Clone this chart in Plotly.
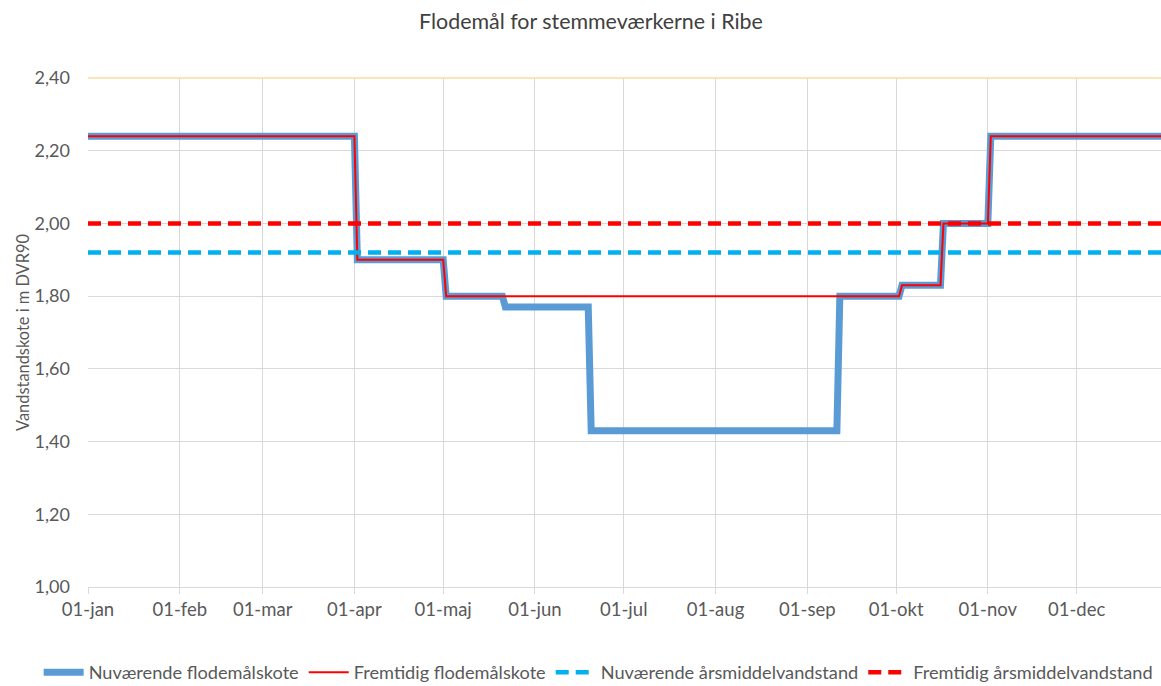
import plotly.graph_objects as go

# ---- data ----
month_ticks = ["2023-01-01", "2023-02-01", "2023-03-01", "2023-04-01", "2023-05-01", "2023-06-01",
               "2023-07-01", "2023-08-01", "2023-09-01", "2023-10-01", "2023-11-01", "2023-12-01"]
month_labels = ["01-jan", "01-feb", "01-mar", "01-apr", "01-maj", "01-jun",
                "01-jul", "01-aug", "01-sep", "01-okt", "01-nov", "01-dec"]

cur_dates = ["2023-01-01", "2023-04-01", "2023-04-02", "2023-05-01", "2023-05-02", "2023-05-21",
             "2023-05-22", "2023-06-19", "2023-06-20", "2023-09-11", "2023-09-12", "2023-10-02",
             "2023-10-03", "2023-10-16", "2023-10-17", "2023-11-01", "2023-11-02", "2023-12-31"]
cur_vals = [2.24, 2.24, 1.90, 1.90, 1.80, 1.80,
            1.77, 1.77, 1.43, 1.43, 1.80, 1.80,
            1.83, 1.83, 2.00, 2.00, 2.24, 2.24]

fut_dates = ["2023-01-01", "2023-04-01", "2023-04-02", "2023-05-01", "2023-05-02", "2023-10-02",
             "2023-10-03", "2023-10-16", "2023-10-17", "2023-11-01", "2023-11-02", "2023-12-31"]
fut_vals = [2.24, 2.24, 1.90, 1.90, 1.80, 1.80,
            1.83, 1.83, 2.00, 2.00, 2.24, 2.24]

mean_dates = ["2023-01-01", "2023-12-31"]
cur_mean = [1.92, 1.92]
fut_mean = [2.00, 2.00]

names = ["Nuværende flodemålskote", "Fremtidig flodemålskote",
         "Nuværende årsmiddelvandstand", "Fremtidig årsmiddelvandstand"]

FONT = "Lato"
TXT = "#595959"
GRID = "#D9D9D9"

fig = go.Figure()
fig.add_trace(go.Scatter(x=cur_dates, y=cur_vals, mode="lines", name=names[0],
                         line=dict(color="#5B9BD5", width=7)))
fig.add_trace(go.Scatter(x=fut_dates, y=fut_vals, mode="lines", name=names[1],
                         line=dict(color="#FF0000", width=2)))
fig.add_trace(go.Scatter(x=mean_dates, y=cur_mean, mode="lines", name=names[2],
                         line=dict(color="#00B0F0", width=4.5, dash="13px,7px")))
fig.add_trace(go.Scatter(x=mean_dates, y=fut_mean, mode="lines", name=names[3],
                         line=dict(color="#FF0000", width=4.5, dash="13px,7px")))

fig.add_shape(type="line", xref="x domain", yref="y domain", x0=0, x1=1, y0=1, y1=1,
              line=dict(color="#F9DC9A", width=1.5), layer="above")

fig.update_layout(
    width=1161, height=686,
    paper_bgcolor="white", plot_bgcolor="white",
    margin=dict(l=88, r=0, t=78, b=99, autoexpand=False),
    separators=",.",
    font=dict(family=FONT, color=TXT, size=16),
    title=dict(text="Flodemål for stemmeværkerne i Ribe", x=0.509, xanchor="center",
               y=1 - 22 / 686, yanchor="middle",
               font=dict(family=FONT, size=21.4, color="#404040")),
    xaxis=dict(range=["2023-01-01", "2023-12-29 12:00"], tickvals=month_ticks, ticktext=month_labels,
               showgrid=True, gridcolor=GRID, gridwidth=1, automargin=False,
               showline=True, linecolor=GRID, linewidth=1,
               ticks="outside", ticklen=6, tickcolor=GRID,
               tickfont=dict(size=18.5, color=TXT), zeroline=False),
    yaxis=dict(range=[1.0, 2.4], dtick=0.2, tick0=1.0, tickformat=".2f",
               showgrid=True, gridcolor=GRID, gridwidth=1, zeroline=False, automargin=False,
               showline=False, ticks="", ticklabelstandoff=17,
               tickfont=dict(size=18, color=TXT),
               title=dict(text="Vandstandskote i m DVR90", standoff=0,
                          font=dict(size=16.4, color=TXT))),
    legend=dict(orientation="h", x=-0.046, xanchor="left", y=-0.168, yanchor="middle",
                font=dict(size=18.2, color=TXT), itemwidth=40, traceorder="normal"),
    showlegend=True,
)

fig.write_html("out.html", config={"displayModeBar": False},
               post_script="document.body.style.margin='0';document.body.style.overflow='hidden';")
